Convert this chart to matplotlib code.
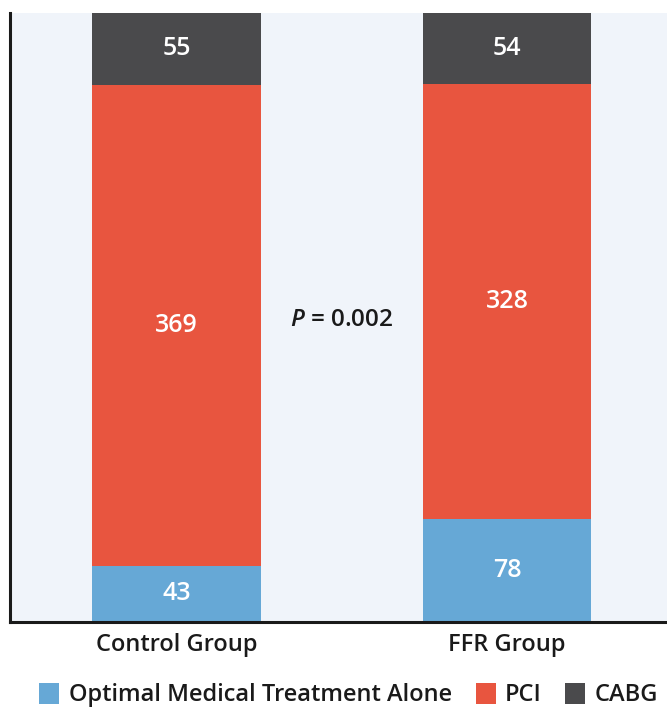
import numpy as np
import matplotlib.pyplot as plt

plt.rcParams['font.family'] = ['Open Sans', 'DejaVu Sans']
plt.rcParams['font.weight'] = 'semibold'
plt.rcParams['mathtext.fontset'] = 'custom'
plt.rcParams['mathtext.it'] = 'Open Sans:italic:semibold'

groups = ['Control Group', 'FFR Group']
series = ['Optimal Medical Treatment Alone', 'PCI', 'CABG']
omt = [43, 78]
pci = [369, 328]
cabg = [55, 54]
colors = ['#66A8D6', '#E8553F', '#4A4A4C']
p_text = '$\\it{P}$ = 0.002'

counts = np.array([omt, pci, cabg], dtype=float)
totals = counts.sum(axis=0)
shares = counts / totals * 100

fig = plt.figure(figsize=(6.67, 7.1), dpi=100)
ax = fig.add_axes([0.015, 0.124, 0.985, 0.858])
ax.set_facecolor('#F0F4FA')

x = np.arange(len(groups))
bottom = np.zeros(len(groups))
handles = []
for i, name in enumerate(series):
    bars = ax.bar(x, shares[i], 0.511, bottom=bottom, color=colors[i], label=name)
    handles.append(bars)
    for j in range(len(groups)):
        ax.text(x[j], bottom[j] + shares[i][j] / 2, f'{int(counts[i][j])}',
                ha='center', va='center', color='white', fontsize=18)
    bottom += shares[i]

ax.text(0.5, 49.6, p_text, ha='center', va='center', fontsize=17.5, color='#1a1a1a')

ax.set_xlim(-0.504, 1.484)
ax.set_ylim(0, 100)
ax.set_xticks(x)
ax.set_xticklabels(groups, fontsize=17, color='#1a1a1a')
ax.tick_params(axis='x', length=0, pad=8)
ax.set_yticks([])
for s in ['top', 'right']:
    ax.spines[s].set_visible(False)
for s in ['left', 'bottom']:
    ax.spines[s].set_linewidth(2.2)
    ax.spines[s].set_color('#1a1a1a')

fig.legend(handles=handles, labels=series, loc='center', bbox_to_anchor=(0.523, 0.021),
           ncol=3, frameon=False, fontsize=17, handlelength=0.85, handleheight=1.0,
           handletextpad=0.4, columnspacing=1.0, labelcolor='#1a1a1a')

fig.savefig('out.png', dpi=100)
